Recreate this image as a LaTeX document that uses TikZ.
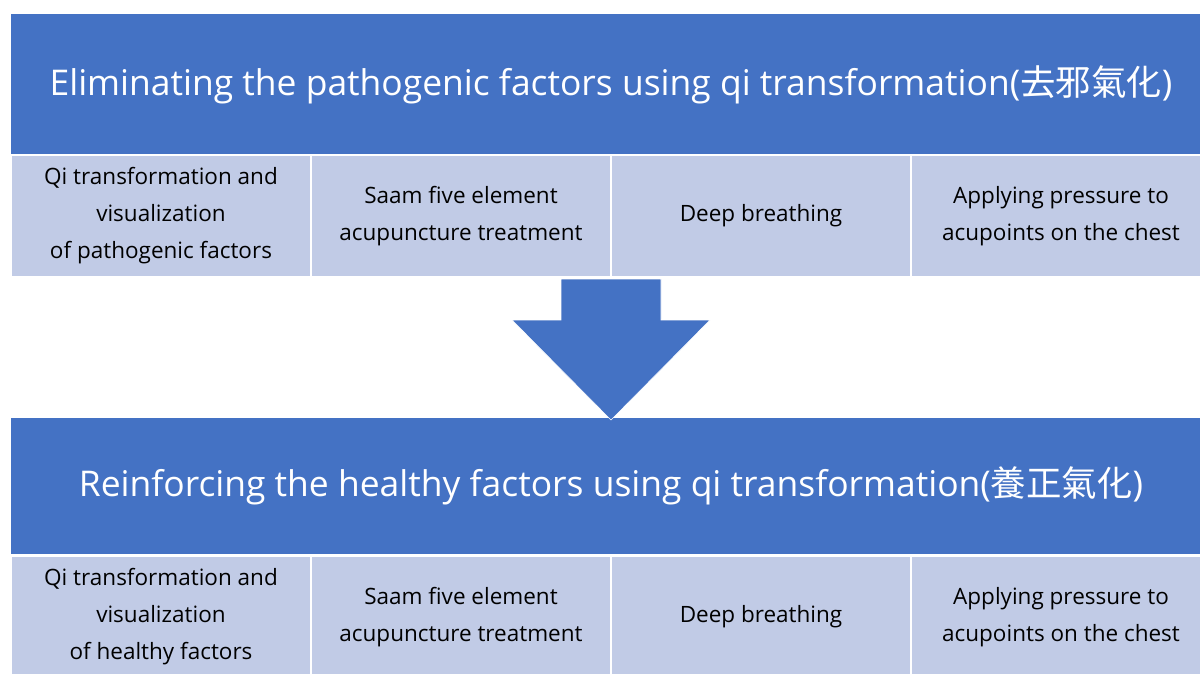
\documentclass[tikz,border=0pt]{standalone}
\usepackage{fontspec}
\setmainfont{Open Sans}
\newfontfamily\cjk{Noto Sans CJK KR}
\usetikzlibrary{calc}
\definecolor{HBlue}{HTML}{4472C4}
\definecolor{CLight}{HTML}{C1CBE6}
\tikzset{
    header/.style = {rectangle, fill=HBlue, text=white,
        minimum width=30cm, inner sep=0pt,
        font=\fontsize{25.2}{30}\selectfont},
    cell/.style = {rectangle, fill=CLight, draw=white, line width=0.8pt,
        minimum width=7.5cm, minimum height=3.05cm, inner sep=0pt,
        align=center, font=\fontsize{16}{26.3}\selectfont},
    bigarrow/.style = {fill=HBlue, draw=white, line width=0.4pt}
}

\begin{document}
\begin{tikzpicture}[x=0.025cm,y=-0.025cm]
                    \useasboundingbox (0,0) rectangle (1200,673);
                    \clip (0,0) rectangle (1200,673);
                    % upper block
                    \node[header,minimum height=3.55cm] at (611,85) (elim) {Eliminating the pathogenic factors using qi transformation({\cjk 去邪氣化})};
                    \node[cell] at (161,216) (e1) {Qi transformation and\\visualization\\of pathogenic factors};
                    \node[cell] at (461,216) (e2) {Saam five element\\acupuncture treatment};
                    \node[cell] at (761,216) (e3) {Deep breathing};
                    \node[cell] at (1061,216) (e4) {Applying pressure to\\acupoints on the chest};
                    % lower block
                    \node[header,minimum height=3.4cm] at (611,486) (rein) {Reinforcing the healthy factors using qi transformation({\cjk 養正氣化})};
                    \node[cell] at (161,617) (r1) {Qi transformation and\\visualization\\of healthy factors};
                    \node[cell] at (461,617) (r2) {Saam five element\\acupuncture treatment};
                    \node[cell] at (761,617) (r3) {Deep breathing};
                    \node[cell] at (1061,617) (r4) {Applying pressure to\\acupoints on the chest};
                    % down arrow
                    \coordinate (atop) at (611,279);
                    \coordinate (atip) at (611,420);
                    \draw[bigarrow] ($(atop)+(-50,0)$) -- ($(atop)+(50,0)$) -- ($(atop)+(50,41)$)
                        -- ($(atop)+(99,41)$) -- (atip) -- ($(atop)+(-99,41)$)
                        -- ($(atop)+(-50,41)$) -- cycle;
                    \end{tikzpicture}
\end{document}
